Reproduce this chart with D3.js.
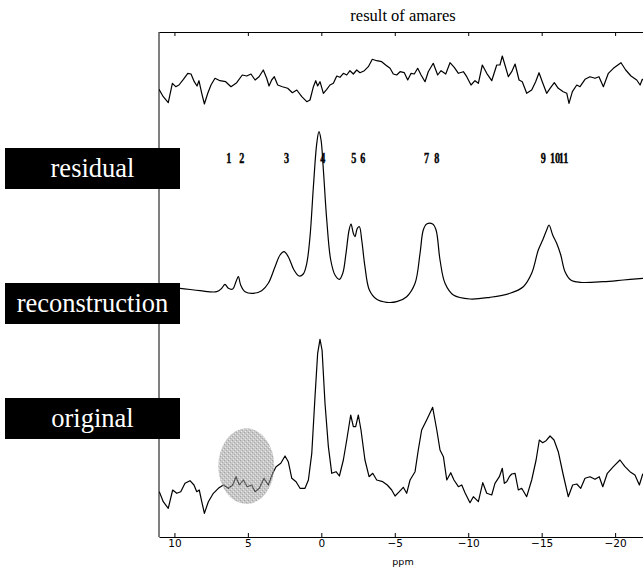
<!DOCTYPE html>
<html>
<head>
<meta charset="utf-8">
<script src="https://cdn.jsdelivr.net/npm/d3@7.9.0/dist/d3.min.js"></script>
<style>
  html, body { margin: 0; padding: 0; background: #fff; overflow: hidden; }
  #chart svg { display: block; }
</style>
</head>
<body>
<div id="chart"></div>
<script>
// [ppm, intensity], intensity relative to each trace's own baseline
const residual = [
  [11.05,-9.3],[10.76,-16.7],[10.42,-22.7],[10.14,-3.3],[9.91,-6.7],[9.69,-5],[9.39,0.7],[9.09,6.7],
  [8.87,6],[8.65,-1.7],[8.46,-6],[8.33,-0.7],[8.14,-13.3],[7.96,-24],[7.73,-13.3],[7.51,-5],[7.24,1.7],
  [6.90,-0.7],[6.51,-1.7],[6.15,-6.7],[5.76,-2.7],[5.38,5],[5.08,4],[4.79,6],[4.51,0],[4.24,3.3],
  [3.95,10],[3.72,1.7],[3.56,-6],[3.38,0],[3.20,3.3],[2.97,-5],[2.65,-6.7],[2.29,-8.3],[1.97,-12.7],
  [1.67,-10],[1.33,-16.7],[0.99,-21.7],[0.77,-20],[0.54,-6.7],[0.38,-0.7],[0.25,-6],[0.09,-1.7],
  [-0.14,-13.3],[-0.37,-9.3],[-0.59,-5],[-0.82,-3.3],[-1.05,4],[-1.27,2.7],[-1.50,6.7],[-1.73,5],
  [-1.95,9.3],[-2.18,6],[-2.41,10],[-2.63,7.3],[-2.93,9.3],[-3.20,13.3],[-3.47,20.7],[-3.77,19.3],
  [-4.11,18.3],[-4.38,15],[-4.68,11.7],[-4.90,6],[-5.13,5],[-5.36,8.3],[-5.65,7.3],[-5.88,0],
  [-6.11,6.7],[-6.33,6],[-6.56,11.7],[-6.79,5],[-7.06,-1.7],[-7.28,8.3],[-7.62,16.7],[-7.92,5],
  [-8.15,9.3],[-8.47,6],[-8.76,17.3],[-9.05,12.7],[-9.33,6.7],[-9.67,8.3],[-9.90,3.3],[-10.19,-5],
  [-10.46,-0.7],[-10.69,-3.3],[-10.96,15],[-11.26,6.7],[-11.60,-0.7],[-11.94,15],[-12.16,15],
  [-12.32,24],[-12.50,15],[-12.73,3.3],[-12.96,8.3],[-13.19,16],[-13.46,0],[-13.68,-1.7],[-13.98,-13.3],
  [-14.32,-10],[-14.59,-1.7],[-14.82,7.3],[-15.04,-1.7],[-15.34,-13.3],[-15.57,-8.3],[-15.86,-2.7],
  [-16.13,-8.3],[-16.47,-11.7],[-16.71,-13.3],[-16.86,-23.3],[-17.09,-11.7],[-17.39,-5],[-17.61,-6.7],
  [-17.95,0.7],[-18.29,3.3],[-18.63,1.7],[-18.90,3.3],[-19.20,-6.7],[-19.54,6.7],[-19.88,11.7],
  [-20.40,17.3],[-20.72,10],[-21.08,4],[-21.47,0],[-21.70,-5],[-21.85,0.7],[-22.2,-3]
];

const reconstruction = [
  [11.05,18],[9.62,16.7],[8.26,14.3],[7.12,13.3],[6.78,16.7],[6.56,20.7],[6.33,16.7],[6.03,16],
  [5.81,23.3],[5.65,28.3],[5.49,20],[5.19,13.3],[4.63,11.7],[4.06,14.3],[3.61,21.7],[3.15,38.3],
  [2.81,50],[2.54,53.3],[2.25,48.3],[1.86,35],[1.52,29],[1.23,31],[0.99,41.7],[0.77,68.3],
  [0.54,118.3],[0.31,161.7],[0.16,173.3],[0.02,165],[-0.14,135],[-0.37,85],[-0.64,45],[-0.93,30],
  [-1.23,25.7],[-1.46,31.7],[-1.68,51.7],[-1.89,75],[-2.02,81],[-2.18,71.7],[-2.29,68.3],[-2.45,76.7],
  [-2.59,78.3],[-2.75,65],[-2.97,38.3],[-3.27,15],[-3.77,5.7],[-4.45,2.7],[-5.13,3.3],[-5.81,8.3],
  [-6.38,21.7],[-6.72,51.7],[-6.94,75],[-7.17,81],[-7.58,81],[-7.81,75],[-8.08,45],[-8.42,21.7],
  [-8.99,10],[-10.12,6],[-11.48,7.7],[-12.85,11.7],[-13.75,18.3],[-14.32,31.7],[-14.77,55],
  [-15.07,65],[-15.34,75],[-15.50,80],[-15.75,70],[-16.02,61.7],[-16.30,50],[-16.59,33.3],[-16.98,25],
  [-17.61,22.7],[-19.20,23.3],[-20.56,25],[-21.88,26.7],[-22.2,27]
];

const original = [
  [11.03,8.3],[10.76,-1.7],[10.42,-8.3],[10.12,10],[9.84,6.7],[9.57,8.3],[9.28,16.7],[8.94,19.3],
  [8.67,15],[8.48,8.3],[8.31,10],[8.14,-1.7],[7.96,-13.3],[7.69,-1.7],[7.35,6.7],[7.01,11.7],[6.67,15],
  [6.33,11.7],[6.03,15],[5.81,23.3],[5.58,15],[5.31,20],[5.04,13.3],[4.74,15],[4.51,8.3],[4.22,11.7],
  [3.90,21.7],[3.61,15],[3.31,26.7],[3.08,33.3],[2.76,36.7],[2.47,44],[2.25,38.3],[2.01,21.7],
  [1.72,18.3],[1.45,11.7],[1.11,11.7],[0.88,20],[0.65,46.7],[0.43,103.3],[0.25,146.7],[0.09,160.7],
  [-0.05,150],[-0.25,96.7],[-0.48,53.3],[-0.71,26.7],[-1.00,28.3],[-1.23,24],[-1.50,40],[-1.73,60],
  [-2.00,85],[-2.18,73.3],[-2.34,73.3],[-2.52,85],[-2.70,70],[-2.97,40],[-3.25,23.3],[-3.50,26.7],
  [-3.77,20],[-4.18,18.3],[-4.49,15],[-4.79,10],[-5.02,4],[-5.31,8.3],[-5.58,12.7],[-5.81,6.7],
  [-6.04,20],[-6.38,28.3],[-6.60,50],[-6.83,70],[-7.17,80],[-7.58,92.7],[-7.86,70],[-8.08,50],
  [-8.31,43.3],[-8.54,20],[-8.81,27.3],[-9.03,20],[-9.33,13.3],[-9.56,15],[-9.78,7.3],[-10.12,-2.7],
  [-10.35,3.3],[-10.69,-1.7],[-10.99,17.3],[-11.26,6.7],[-11.60,5],[-11.82,16.7],[-12.12,23.3],
  [-12.32,31.7],[-12.46,16.7],[-12.62,18.3],[-12.80,23.3],[-12.96,26],[-13.19,26.7],[-13.41,10],
  [-13.64,11.7],[-13.98,3.3],[-14.32,20],[-14.62,40],[-14.84,60],[-15.07,57.3],[-15.30,59.3],
  [-15.57,64],[-15.84,60],[-16.13,48.3],[-16.47,25],[-16.81,3.3],[-17.11,15],[-17.39,16],[-17.66,11.7],
  [-17.95,21.7],[-18.29,23.3],[-18.63,20.7],[-18.92,23.3],[-19.16,13.3],[-19.47,26.7],[-19.88,33.3],
  [-20.33,40],[-20.67,33.3],[-21.01,28.3],[-21.35,25],[-21.65,15],[-21.88,26],[-22.2,20]
];

// peak numbers written above the reconstruction
const peakLabels = ["1","2","3","4","5","6","7","8","9","10","11"];
const peakPpm = [6.30, 5.42, 2.36, -0.10, -2.21, -2.82, -7.17, -7.86, -15.11, -15.91, -16.49];
const peakLabelLevel = 142;

// shaded region on the original trace
const highlight = { ppmFrom: 7.01, ppmTo: 3.2, low: -4, high: 71.7 };

const xTicks = [10, 5, 0, -5, -10, -15, -20];
const traceNames = ["residual", "reconstruction", "original"];

const width = 643;
const height = 570;
const plot = { left: 159, right: 647, top: 32, bottom: 537 };

// vertical offset of each trace inside the shared intensity scale
const offsets = { residual: 457, reconstruction: 232, original: 37 };

const x = d3.scaleLinear().domain([11.05, -22.17]).range([plot.left, plot.right]);
const y = d3.scaleLinear().domain([0, 505]).range([plot.bottom, plot.top]);

const svg = d3.select("#chart").append("svg")
  .attr("width", width)
  .attr("height", height)
  .attr("viewBox", `0 0 ${width} ${height}`);

const defs = svg.append("defs");
defs.append("clipPath").attr("id", "plot-clip")
  .append("rect")
  .attr("x", plot.left).attr("y", plot.top)
  .attr("width", plot.right - plot.left).attr("height", plot.bottom - plot.top);

// stipple texture for the ellipse
const stipple = defs.append("pattern")
  .attr("id", "stipple")
  .attr("patternUnits", "userSpaceOnUse")
  .attr("width", 4).attr("height", 4);
stipple.append("rect").attr("width", 4).attr("height", 4).attr("fill", "#9a9a9a");
stipple.append("rect").attr("x", 0).attr("y", 0).attr("width", 1).attr("height", 1).attr("fill", "#5a5a5a");
stipple.append("rect").attr("x", 2).attr("y", 2).attr("width", 1).attr("height", 1).attr("fill", "#6a6a6a");
stipple.append("rect").attr("x", 1).attr("y", 3).attr("width", 1).attr("height", 1).attr("fill", "#d8d8d8");
stipple.append("rect").attr("x", 3).attr("y", 1).attr("width", 1).attr("height", 1).attr("fill", "#d0d0d0");

// title
svg.append("text")
  .attr("x", (plot.left + plot.right) / 2)
  .attr("y", 21)
  .attr("text-anchor", "middle")
  .style("font-family", "'Liberation Serif', 'Times New Roman', serif")
  .style("font-size", "16.5px")
  .text("result of amares");

const traces = svg.append("g").attr("clip-path", "url(#plot-clip)");

function drawTrace(data, offset, curve) {
  const line = d3.line()
    .curve(curve)
    .x(d => x(d[0]))
    .y(d => y(d[1] + offset));
  traces.append("path")
    .datum(data)
    .attr("d", line)
    .attr("fill", "none")
    .attr("stroke", "#000")
    .attr("stroke-width", 1.2)
    .attr("stroke-linejoin", "round");
}

drawTrace(residual, offsets.residual, d3.curveLinear);
drawTrace(reconstruction, offsets.reconstruction, d3.curveCatmullRom.alpha(0.5));
drawTrace(original, offsets.original, d3.curveLinear);

// grey ellipse over the original
const cx = (x(highlight.ppmFrom) + x(highlight.ppmTo)) / 2;
const cy = (y(highlight.low + offsets.original) + y(highlight.high + offsets.original)) / 2;
traces.append("ellipse")
  .attr("cx", cx)
  .attr("cy", cy)
  .attr("rx", Math.abs(x(highlight.ppmTo) - x(highlight.ppmFrom)) / 2)
  .attr("ry", Math.abs(y(highlight.low) - y(highlight.high)) / 2)
  .attr("fill", "url(#stipple)")
  .attr("opacity", 0.55);

// peak numbers
svg.append("g")
  .selectAll("text")
  .data(peakLabels)
  .join("text")
  .attr("transform", (d, i) => `translate(${x(peakPpm[i])},${y(peakLabelLevel + offsets.reconstruction)}) scale(0.68,1)`)
  .attr("text-anchor", "middle")
  .style("font-family", "'Liberation Serif', 'Times New Roman', serif")
  .style("font-weight", "bold")
  .style("font-size", "15px")
  .style("stroke", "#000")
  .style("stroke-width", 0.4)
  .text(d => d);

// axes: box on left/top/bottom, ticks pointing in
const axisFont = "'DejaVu Sans', sans-serif";

const bottomAxis = svg.append("g")
  .attr("transform", `translate(0,${plot.bottom})`)
  .call(d3.axisBottom(x).tickValues(xTicks).tickSize(-4).tickPadding(3).tickSizeOuter(0));
bottomAxis.selectAll("text").style("font-family", axisFont).style("font-size", "10.5px").attr("fill", "#000");

svg.append("g")
  .attr("transform", `translate(0,${plot.top})`)
  .call(d3.axisTop(x).tickValues(xTicks).tickSize(-4).tickFormat("").tickSizeOuter(0));

svg.selectAll(".domain").attr("stroke", "#000");
svg.selectAll(".tick line").attr("stroke", "#000");

svg.append("line")
  .attr("x1", plot.left).attr("x2", plot.left)
  .attr("y1", plot.top).attr("y2", plot.bottom)
  .attr("stroke", "#000");

svg.append("text")
  .attr("x", (plot.left + plot.right) / 2)
  .attr("y", 565)
  .attr("text-anchor", "middle")
  .style("font-family", axisFont)
  .style("font-size", "9.5px")
  .text("ppm");

// black name boxes at the left
const boxTops = [148, 283, 398];
const names = svg.append("g")
  .selectAll("g")
  .data(traceNames)
  .join("g")
  .attr("transform", (d, i) => `translate(5,${boxTops[i]})`);

names.append("rect")
  .attr("width", 175)
  .attr("height", 41)
  .attr("fill", "#000");

names.append("text")
  .attr("x", 87.5)
  .attr("y", 28.5)
  .attr("text-anchor", "middle")
  .attr("fill", "#fff")
  .style("font-family", "'Liberation Serif', 'Times New Roman', serif")
  .style("font-size", "26.5px")
  .text(d => d);
</script>
</body>
</html>
